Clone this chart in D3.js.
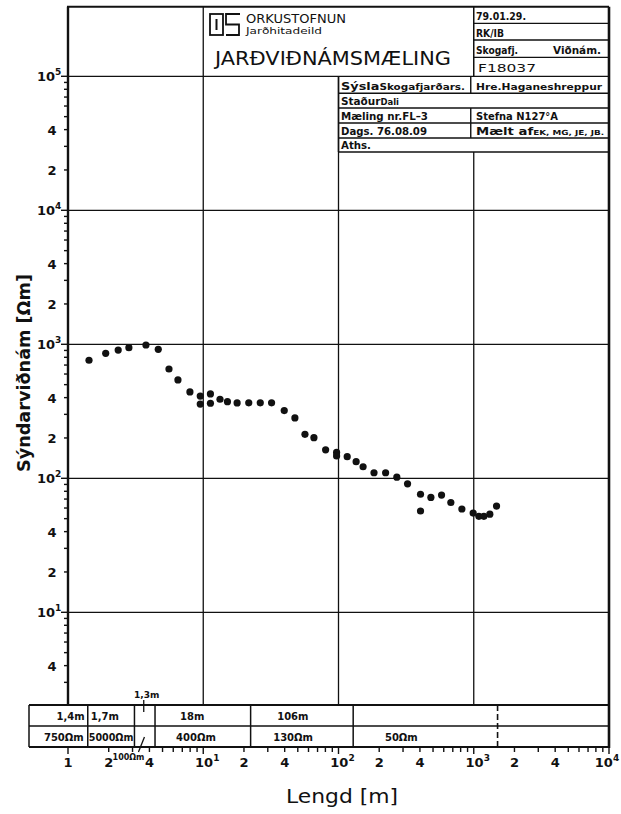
<!DOCTYPE html>
<html>
<head>
<meta charset="utf-8">
<script src="https://cdn.jsdelivr.net/npm/d3@7/dist/d3.min.js"></script>
<style>
  html, body { margin: 0; padding: 0; background: #fff; }
  svg text { font-family: "DejaVu Sans", "Liberation Sans", sans-serif; fill: #111; }
</style>
</head>
<body>
<div id="chart"></div>
<script>
// electrode half-spacing (m) and apparent resistivity (Ωm)
const spacing = [1.43, 1.90, 2.35, 2.82, 3.77, 4.65, 5.58, 6.50, 7.97, 9.5, 9.5, 11.3, 11.3,
  13.3, 15.1, 17.8, 21.7, 26.4, 32.0, 39.7, 47.6, 56.5, 65.8, 80.3, 96.8, 96.8, 116, 135,
  152, 183, 223, 270, 324, 404, 404, 482, 578, 677, 817, 990, 1091, 1188, 1315, 1474];
const rho = [760, 857, 906, 944, 988, 918, 654, 542, 441, 411, 358, 426, 363,
  389, 373, 365, 366, 366, 366, 320, 282, 213, 201, 163, 156, 147, 145, 133,
  122, 110, 110, 102, 91, 76, 57, 72, 75, 66, 59, 55, 52, 52, 54, 62];

// interpreted layer model (table under the plot)
const layerThick = [1.4, 1.7, 1.3, 18, 106];
const layerRho = [750, 5000, 100, 400, 130, 50];
const dashedAt = 1500;

const xTicks = [1, 2, 4, 10, 20, 40, 100, 200, 400, 1000, 2000, 4000, 10000];
const yTicks = [1e5, 4e4, 2e4, 1e4, 4e3, 2e3, 1e3, 400, 200, 100, 40, 20, 10, 4];
const yGrid = [1e5, 1e4, 1e3, 100, 10];

const W = 621, H = 814;
const ink = '#111';
const plotTop = 6.7, plotBot = 705, tMid = 726, tBot = 747, tLeft = 29;
const infoBot = 152;

const svg = d3.select('#chart').append('svg')
  .attr('width', W).attr('height', H)
  .attr('viewBox', `0 0 ${W} ${H}`);

const x = d3.scaleLog().domain([1, 1e4]).range([68, 609]);
const y = d3.scaleLog().domain([1, 1e5]).range([746.3, 76.3]);

const line = (g, x1, y1, x2, y2, w) => g.append('line')
  .attr('x1', x1).attr('y1', y1).attr('x2', x2).attr('y2', y2)
  .attr('stroke', ink).attr('stroke-width', w || 1.3);

const isPow10 = v => Math.abs(Math.log10(v) - Math.round(Math.log10(v))) < 1e-9;

// label "10" with exponent, or the leading digit
function tickLabel(sel, v) {
  const e = Math.round(Math.log10(v));
  if (isPow10(v) && e > 0) {
    sel.append('tspan').text('10');
    sel.append('tspan').attr('dy', -6).attr('font-size', '9px').text(e);
  } else {
    sel.text(Math.round(v / Math.pow(10, Math.floor(Math.log10(v)))));
  }
}

const grid = svg.append('g').attr('class', 'grid');

// horizontal grid
yGrid.forEach(v => line(grid, x(1), y(v), x(1e4), y(v), 1.3));

// vertical grid (the boxes at the top sit on them)
const vStart = { 10: plotTop, 100: y(1e5), 1000: infoBot };
[10, 100, 1000].forEach(v => line(grid, x(v), vStart[v], x(v), plotBot, 1.3));

// frame
const frame = svg.append('g').attr('class', 'frame');
line(frame, x(1), plotTop, x(1), plotBot, 2.4);
line(frame, x(1) - 1, plotTop, x(1e4), plotTop, 2);
line(frame, x(1e4), plotTop, x(1e4), tBot + 1, 2.6);

// left axis ticks
const yAll = y.ticks().filter(v => y(v) < plotBot - 3 && v <= 1e5);
svg.append('g').selectAll('line').data(yAll).join('line')
  .attr('x1', d => x(1) - (isPow10(d) ? 7 : 4)).attr('x2', x(1) + 1)
  .attr('y1', d => y(d)).attr('y2', d => y(d))
  .attr('stroke', ink).attr('stroke-width', 1.4);

svg.append('g').selectAll('text').data(yTicks).join('text')
  .attr('x', d => isPow10(d) ? 37 : 52)
  .attr('y', d => y(d) + 5)
  .attr('text-anchor', d => isPow10(d) ? 'start' : 'middle')
  .attr('font-size', '13px').attr('font-weight', 'bold')
  .each(function (d) { tickLabel(d3.select(this), d); });

// bottom axis ticks
const xAll = x.ticks().filter(v => v >= 1 && v <= 1e4);
svg.append('g').selectAll('line').data(xAll).join('line')
  .attr('x1', d => x(d)).attr('x2', d => x(d))
  .attr('y1', tBot).attr('y2', d => tBot + (isPow10(d) ? 7 : 5))
  .attr('stroke', ink).attr('stroke-width', 1.4);

svg.append('g').selectAll('text').data(xTicks).join('text')
  .attr('x', d => x(d) + (d === 1e4 ? -2 : (isPow10(d) && d > 1 ? 4 : 0)))
  .attr('y', 767)
  .attr('text-anchor', 'middle')
  .attr('font-size', '13px').attr('font-weight', 'bold')
  .each(function (d) { tickLabel(d3.select(this), d); });

// measured points
svg.append('g').selectAll('circle').data(spacing).join('circle')
  .attr('cx', d => x(d))
  .attr('cy', (d, i) => y(rho[i]))
  .attr('r', 3.6)
  .attr('fill', ink);

// layer table
const table = svg.append('g').attr('class', 'layers');
line(table, tLeft, plotBot, x(1e4), plotBot, 2);
line(table, tLeft, tMid, x(1e4), tMid, 1.5);
line(table, tLeft, tBot, x(1e4), tBot, 2);
line(table, tLeft, plotBot, tLeft, tBot, 1.5);

const bounds = d3.cumsum(layerThick);
bounds.forEach(b => line(table, x(b), plotBot, x(b), tBot, 1.5));
line(table, x(dashedAt), plotBot, x(dashedAt), tBot, 1.6).attr('stroke-dasharray', '6,3');

const edges = [tLeft].concat(Array.from(bounds, b => x(b))).concat([x(dashedAt)]);
const thickText = v => String(v).replace('.', ',') + 'm';
const rhoText = v => v + 'Ωm';

const cellText = (txt, xx, yy, anchor, len) => {
  const t = table.append('text').attr('x', xx).attr('y', yy)
    .attr('text-anchor', anchor || 'start')
    .attr('font-size', '10px').attr('font-weight', 'bold')
    .text(txt);
  if (len) t.attr('textLength', len).attr('lengthAdjust', 'spacingAndGlyphs');
  return t;
};

layerRho.forEach((r, i) => {
  const left = edges[i], right = edges[i + 1];
  const th = layerThick[i];
  if (i === 0) {
    cellText(thickText(th), right - 3, 720, 'end');
    cellText(rhoText(r), right - 4, 741, 'end');
  } else if (i === 1) {
    cellText(thickText(th), left + 3, 720, 'start');
    cellText(rhoText(r), left + 1, 741, 'start', right - left - 2);
  } else if (i === 2) {
    const cx = (left + right) / 2;
    cellText(thickText(th), cx + 2, 698, 'middle').attr('font-size', '9px');
    line(table, cx - 1, 700, cx - 1, 712, 1.3);
    line(table, left + 4, 752, left + 10, 737, 1.3);
    cellText(rhoText(r), left + 10, 760, 'end').attr('font-size', '8px');
  } else {
    const sx = left + (right - left) * 0.22;
    if (th !== undefined) cellText(thickText(th), sx + 4, 720, 'start');
    cellText(rhoText(r), sx, 741, 'start');
  }
});

// title block
const tb = svg.append('g').attr('class', 'title-block');
line(tb, x(1000), plotTop, x(1000), y(1e5), 1.5);
[23.3, 40, 57.3].forEach(yy => line(tb, x(1000), yy, x(1e4), yy, 1.3));

// logo
tb.append('rect').attr('x', 210).attr('y', 14).attr('width', 13).attr('height', 21)
  .attr('fill', 'none').attr('stroke', ink).attr('stroke-width', 1.8);
line(tb, 216.5, 19, 216.5, 30, 2);
tb.append('path').attr('d', 'M240,14 H226 V24.5 H239 V35 H226')
  .attr('fill', 'none').attr('stroke', ink).attr('stroke-width', 1.8);

tb.append('text').attr('x', 246).attr('y', 23).attr('font-size', '11.5px')
  .attr('textLength', 100).attr('lengthAdjust', 'spacingAndGlyphs').text('ORKUSTOFNUN');
tb.append('text').attr('x', 246).attr('y', 33.5).attr('font-size', '9.5px')
  .attr('textLength', 76).attr('lengthAdjust', 'spacingAndGlyphs').text('Jarðhitadeild');
tb.append('text').attr('x', 215).attr('y', 65).attr('font-size', '19px')
  .attr('textLength', 236).attr('lengthAdjust', 'spacingAndGlyphs').text('JARÐVIÐNÁMSMÆLING');

const small = (txt, xx, yy, size, len) => {
  const t = tb.append('text').attr('x', xx).attr('y', yy)
    .attr('font-size', (size || 10) + 'px').attr('font-weight', 'bold').text(txt);
  if (len) t.attr('textLength', len).attr('lengthAdjust', 'spacingAndGlyphs');
  return t;
};
small('79.01.29.', 476, 20, 11, 50);
small('RK/IB', 476, 36.5, 10, 28);
small('Skogafj.', 476, 53.5, 10, 42);
small('Viðnám.', 553, 53.5, 10, 48);
small('F18037', 478, 72, 11, 58).attr('font-weight', 'normal');

// location block
const rows = [93.3, 108, 123, 138, infoBot];
rows.forEach(yy => line(tb, x(100), yy, x(1e4), yy, 1.4));
line(tb, x(100), y(1e5), x(100), infoBot, 1.5);
[[y(1e5), 93.3], [108, 123], [123, 138]].forEach(r => line(tb, x(1000) - 3, r[0], x(1000) - 3, r[1], 1.4));

const mixed = (parts, xx, yy, len) => {
  const t = tb.append('text').attr('x', xx).attr('y', yy).attr('font-weight', 'bold');
  parts.forEach(p => t.append('tspan').attr('font-size', p[1] + 'px').text(p[0]));
  if (len) t.attr('textLength', len).attr('lengthAdjust', 'spacingAndGlyphs');
  return t;
};
mixed([['Sýsla', 10.5], ['Skogafjarðars.', 8.5]], 341, 89.5, 124);
mixed([['Hre.Haganeshreppur', 9.5]], 476, 89.5, 126);
mixed([['Staður', 10.5], ['Dali', 8.5]], 341, 104.5, 58);
mixed([['Mæling  nr.FL–3', 10]], 341, 119.5, 87);
mixed([['Stefna N127°A', 10]], 476, 119.5, 82);
mixed([['Dags. 76.08.09', 10]], 341, 134.5, 86);
mixed([['Mælt af', 10.5], ['EK, MG, JE, JB.', 7]], 476, 134.5, 128);
mixed([['Aths.', 10]], 341, 148.5, 30);

// axis titles
svg.append('text')
  .attr('transform', 'translate(30,373) rotate(-90)')
  .attr('text-anchor', 'middle')
  .attr('font-size', '18px').attr('font-weight', 'bold')
  .attr('textLength', 198).attr('lengthAdjust', 'spacingAndGlyphs')
  .text('Sýndarviðnám [Ωm]');

svg.append('text')
  .attr('x', 342).attr('y', 803)
  .attr('text-anchor', 'middle')
  .attr('font-size', '20px')
  .attr('textLength', 112).attr('lengthAdjust', 'spacingAndGlyphs')
  .text('Lengd [m]');
</script>
</body>
</html>
